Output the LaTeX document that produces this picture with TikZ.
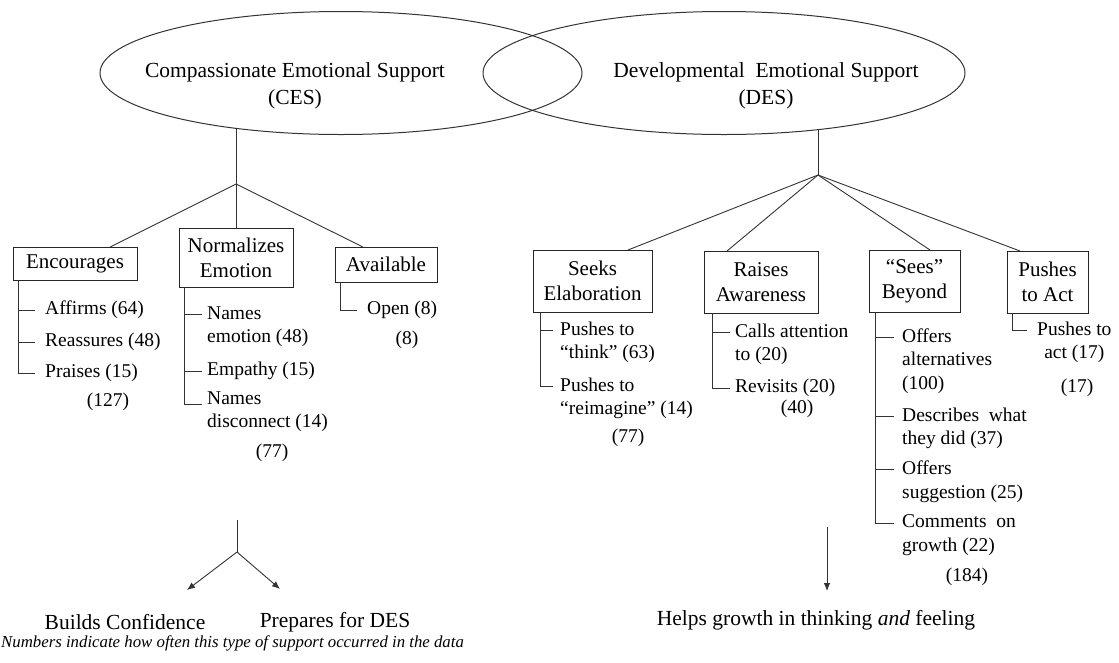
\documentclass[tikz,border=0pt]{standalone}
\usepackage{fontspec}
\setmainfont{Liberation Serif}
\usetikzlibrary{shapes.geometric,arrows.meta}
\begin{document}
\begin{tikzpicture}[x=1pt,y=-1pt,
  ln/.style={draw=black!80,line width=0.9pt},
  oval/.style={draw=black!80,line width=1pt,ellipse,minimum width=482pt,minimum height=123pt,inner sep=0pt,outer sep=0pt},
  big/.style={font=\fontsize{21.5}{27}\selectfont,align=center,inner sep=0pt},
  cat/.style={draw=black!85,line width=1pt,font=\fontsize{21}{25}\selectfont,align=center,inner sep=0pt,outer sep=0pt},
  itm/.style={font=\fontsize{19.5}{23.5}\selectfont,align=left,inner sep=0pt,anchor=west},
  cnt/.style={font=\fontsize{19.5}{23.5}\selectfont,inner sep=0pt},
  arr/.style={ln,-{Latex[length=8pt,width=6.5pt]}}
]
\useasboundingbox (0,0) rectangle (1119,662);
% ellipses
\node[oval] (ces) at (341,73) {};
\node[oval] (des) at (724,73) {};
\node[big] (cest) at (295,86) {Compassionate Emotional Support\\(CES)};
\node[big] (dest) at (766,86) {Developmental\ \ Emotional Support\\(DES)};
\coordinate (cesb) at (236,184);
\coordinate (desb) at (818,175);
\draw[ln] (cesb |- ces.208) -- (cesb);
\draw[ln] (desb |- des.329) -- (desb);
% category boxes
\node[cat,minimum width=124pt,minimum height=33pt] (enc) at (75,263.5) {Encourages};
\node[cat,minimum width=114pt,minimum height=59pt] (nrm) at (236,257.5) {Normalizes\\Emotion};
\node[cat,minimum width=102pt,minimum height=35pt] (ava) at (386,264.5) {Available};
\node[cat,minimum width=119pt,minimum height=62pt] (sek) at (592.5,281) {Seeks\\Elaboration};
\node[cat,minimum width=114pt,minimum height=62pt] (rai) at (761,282) {Raises\\Awareness};
\node[cat,minimum width=91pt,minimum height=62pt] (see) at (914.5,281) {“Sees”\\Beyond};
\node[cat,minimum width=81pt,minimum height=62pt] (pus) at (1047.5,282) {Pushes\\to Act};
% branches
\draw[ln] (cesb) -- ([xshift=35pt]enc.north);
\draw[ln] (cesb) -- (nrm.north);
\draw[ln] (cesb) -- ([xshift=-23pt]ava.north);
\draw[ln] (desb) -- ([xshift=35.5pt]sek.north);
\draw[ln] (desb) -- ([xshift=-34pt]rai.north);
\draw[ln] (desb) -- ([xshift=15.5pt]see.north);
\draw[ln] (desb) -- ([xshift=-27.5pt]pus.north);
% Encourages
\node[itm] (aff) at (45,310) {Affirms (64)};
\node[itm] (rea) at (45,342) {Reassures (48)};
\node[itm] (pra) at (45,373) {Praises (15)};
\node[cnt] (encn) at (108,402) {(127)};
\draw[ln] ([xshift=5pt]enc.south west) |- ([xshift=-10pt]aff.west);
\draw[ln] ([xshift=5pt]enc.south west) |- ([xshift=-10pt]rea.west);
\draw[ln] ([xshift=5pt]enc.south west) |- ([xshift=-10pt]pra.west);
% Normalizes
\node[itm] (nam) at (207,326.5) {Names\\emotion (48)};
\node[itm] (emp) at (207,371) {Empathy (15)};
\node[itm] (dis) at (207,411.5) {Names\\disconnect (14)};
\node[cnt] (nrmn) at (272,453) {(77)};
\draw[ln] ([xshift=5pt]nrm.south west) |- ([xshift=-5pt,yshift=11.75pt]nam.west);
\draw[ln] ([xshift=5pt]nrm.south west) |- ([xshift=-5pt]emp.west);
\draw[ln] ([xshift=5pt]nrm.south west) |- ([xshift=-5pt,yshift=7pt]dis.west);
% Available
\node[itm] (ope) at (367,310) {Open (8)};
\node[cnt] (avan) at (407,340) {(8)};
\draw[ln] ([xshift=5pt]ava.south west) |- ([xshift=-10pt]ope.west);
% Seeks Elaboration
\node[itm] (pt1) at (560,342.5) {Pushes to\\“think” (63)};
\node[itm] (pt2) at (560,398.5) {Pushes to\\“reimagine” (14)};
\node[cnt] (sekn) at (628,438) {(77)};
\draw[ln] ([xshift=7pt]sek.south west) |- ([xshift=-7pt,yshift=11.75pt]pt1.west);
\draw[ln] ([xshift=7pt]sek.south west) |- ([xshift=-7pt,yshift=11.75pt]pt2.west);
% Raises Awareness
\node[itm] (cal) at (735,344.5) {Calls attention\\to (20)};
\node[itm] (rev) at (735,388) {Revisits (20)};
\node[cnt] (rain) at (797,409) {(40)};
\draw[ln] ([xshift=8pt]rai.south west) |- ([xshift=-5pt,yshift=11.75pt]cal.west);
\draw[ln] ([xshift=8pt]rai.south west) |- ([xshift=-5pt]rev.west);
% Sees Beyond
\node[itm] (off) at (902,361) {Offers\\alternatives\\(100)};
\node[itm] (dsc) at (902,428.5) {Describes\ \ what\\they did (37)};
\node[itm] (sug) at (902,481.5) {Offers\\suggestion (25)};
\node[itm] (com) at (902,535) {Comments\ \ on\\growth (22)};
\node[cnt] (seen) at (967,577) {(184)};
\draw[ln] ([xshift=6pt]see.south west) |- ([xshift=-8pt,yshift=23.5pt]off.west);
\draw[ln] ([xshift=6pt]see.south west) |- ([xshift=-8pt,yshift=11.75pt]dsc.west);
\draw[ln] ([xshift=6pt]see.south west) |- ([xshift=-8pt,yshift=11.75pt]sug.west);
\draw[ln] ([xshift=6pt]see.south west) |- ([xshift=-8pt,yshift=11.75pt]com.west);
% Pushes to Act
\node[itm,align=center] (pta) at (1037,342.5) {Pushes to\\act (17)};
\node[cnt] (pusn) at (1077,388) {(17)};
\draw[ln] ([xshift=5pt]pus.south west) |- ([xshift=-10pt,yshift=11.75pt]pta.west);
% outcomes
\coordinate (cl1) at (237,520);
\coordinate (cl2) at (237,552);
\coordinate (al) at (187,590);
\coordinate (ar) at (280,589);
\draw[ln] (cl1) -- (cl2);
\draw[arr] (cl2) -- (al);
\draw[arr] (cl2) -- (ar);
\node[big] (bc) at (125,622) {Builds Confidence};
\node[big] (pfd) at (335,622) {Prepares for DES};
\coordinate (dl1) at (827,527);
\coordinate (dl2) at (827,591);
\draw[arr] (dl1) -- (dl2);
\node[big] (hg) at (816,620) {Helps growth in thinking \textit{and} feeling};
\node[font=\fontsize{16.8}{20}\selectfont\itshape,inner sep=0pt,anchor=west] (fn) at (1,643) {Numbers indicate how often this type of support occurred in the data};
\end{tikzpicture}
\end{document}
